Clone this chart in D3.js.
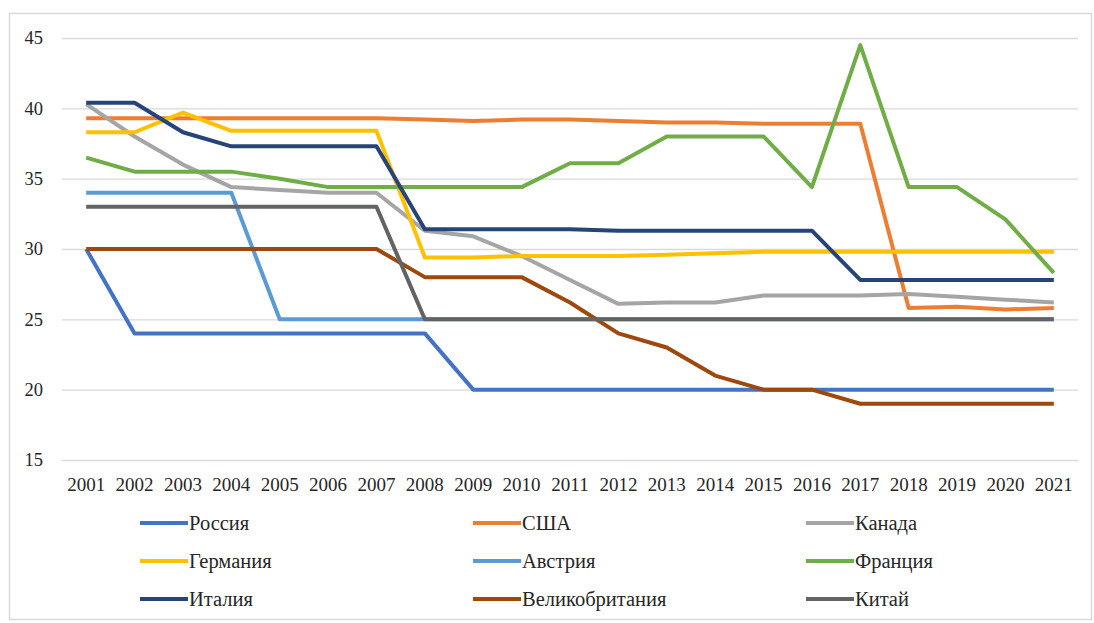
<!DOCTYPE html>
<html><head><meta charset="utf-8">
<script src="https://cdn.jsdelivr.net/npm/d3@7"></script>
<style>body{margin:0;background:#fff;} svg{display:block;}</style>
</head><body>
<svg id="c" width="1094" height="623"></svg>
<script>
const years = ["2001","2002","2003","2004","2005","2006","2007","2008","2009","2010","2011","2012","2013","2014","2015","2016","2017","2018","2019","2020","2021"];
const yTicks = [15,20,25,30,35,40,45];
const seriesNames = ["Россия","США","Канада","Германия","Австрия","Франция","Италия","Великобритания","Китай"];
const russia  = [30,24,24,24,24,24,24,24,20,20,20,20,20,20,20,20,20,20,20,20,20];
const usa     = [39.3,39.3,39.3,39.3,39.3,39.3,39.3,39.2,39.1,39.2,39.2,39.1,39.0,39.0,38.9,38.9,38.9,25.8,25.9,25.7,25.8];
const canada  = [40.3,38.0,36.0,34.4,34.2,34.0,34.0,31.3,30.9,29.5,27.8,26.1,26.2,26.2,26.7,26.7,26.7,26.8,26.6,26.4,26.2];
const germany = [38.3,38.3,39.7,38.4,38.4,38.4,38.4,29.4,29.4,29.5,29.5,29.5,29.6,29.7,29.8,29.8,29.8,29.8,29.8,29.8,29.8];
const austria = [34,34,34,34,25,25,25,25,25,25,25,25,25,25,25,25,25,25,25,25,25];
const france  = [36.5,35.5,35.5,35.5,35.0,34.4,34.4,34.4,34.4,34.4,36.1,36.1,38.0,38.0,38.0,34.4,44.5,34.4,34.4,32.1,28.3];
const italy   = [40.4,40.4,38.3,37.3,37.3,37.3,37.3,31.4,31.4,31.4,31.4,31.3,31.3,31.3,31.3,31.3,27.8,27.8,27.8,27.8,27.8];
const uk      = [30,30,30,30,30,30,30,28,28,28,26.2,24,23,21,20,20,19,19,19,19,19];
const china   = [33,33,33,33,33,33,33,25,25,25,25,25,25,25,25,25,25,25,25,25,25];
const seriesValues = [russia,usa,canada,germany,austria,france,italy,uk,china];
const colors = ["#4472C4","#ED7D31","#A5A5A5","#FFC000","#5B9BD5","#70AD47","#264478","#9E480E","#636363"];

const svg = d3.select("#c");
const font = "Liberation Serif";

// frame
svg.append("rect").attr("x",9.5).attr("y",13.5).attr("width",1082).attr("height",606)
  .attr("fill","none").attr("stroke","#d9d9d9").attr("stroke-width",1.5);

const x = d3.scaleBand().domain(years).range([62,1078]).padding(0);
const y = d3.scaleLinear().domain([15,45]).range([460,38]);
const cx = d => x(d) + x.bandwidth()/2;

// gridlines + y labels
const yAxis = d3.axisLeft(y).tickValues(yTicks).tickSize(-(1078-62)).tickPadding(19);
const gy = svg.append("g").attr("transform","translate(62,0)").call(yAxis);
gy.attr("font-family",null);
gy.select(".domain").remove();
gy.selectAll(".tick line").attr("stroke","#d9d9d9").attr("stroke-width",1.3);
gy.selectAll(".tick text").style("font-family",font).attr("font-size",18.5).attr("fill","#262626");

// x labels
const xAxis = d3.axisBottom(x).tickSize(0).tickPadding(18);
const gx = svg.append("g").attr("transform","translate(0,460)").call(xAxis);
gx.attr("font-family",null);
gx.select(".domain").remove();
gx.selectAll(".tick text").style("font-family",font).attr("font-size",19).attr("fill","#262626");

// lines
const line = d3.line().x((d,i)=>cx(years[i])).y(d=>y(d));
seriesValues.forEach((vals,k)=>{
  svg.append("path").datum(vals).attr("d",line)
    .attr("fill","none").attr("stroke",colors[k]).attr("stroke-width",4)
    .attr("stroke-linejoin","round").attr("stroke-linecap","butt");
});

// legend
const colX = [140,473,806];
const rowY = [523,561,599];
seriesNames.forEach((name,k)=>{
  const gxp = colX[k%3], gyp = rowY[Math.floor(k/3)];
  svg.append("line").attr("x1",gxp).attr("x2",gxp+48).attr("y1",gyp).attr("y2",gyp)
    .attr("stroke",colors[k]).attr("stroke-width",4);
  svg.append("text").attr("x",gxp+49).attr("y",gyp).attr("dy","0.35em")
    .style("font-family",font).attr("font-size",20.5).attr("fill","#262626").text(name);
});
</script>
</body></html>
